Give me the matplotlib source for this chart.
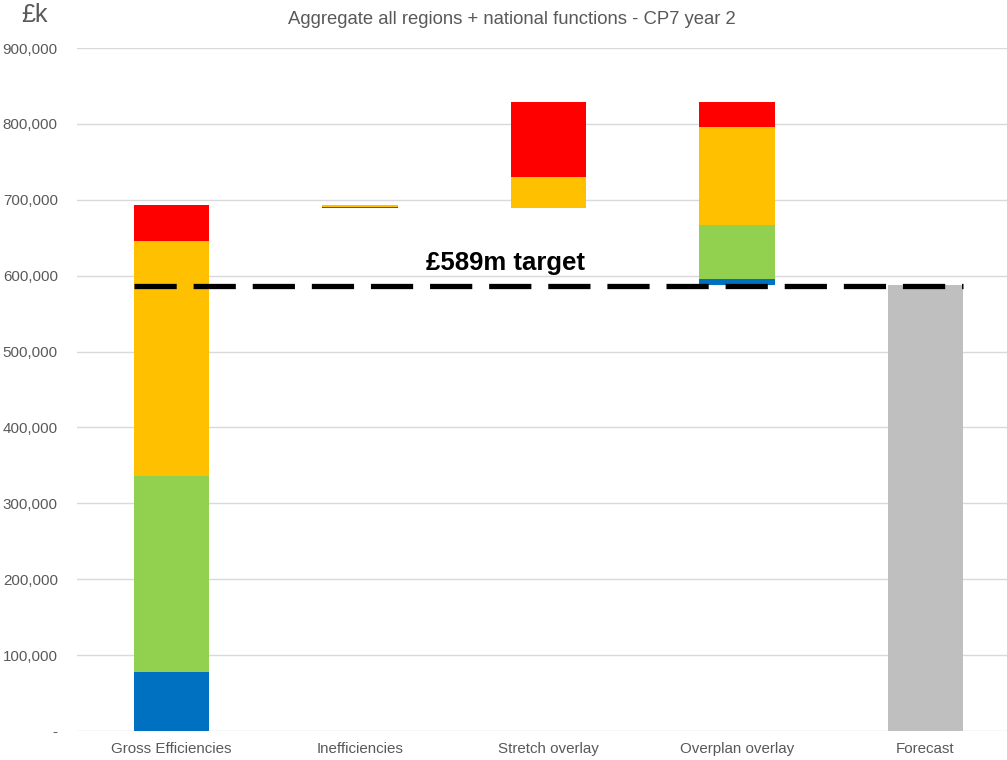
import numpy as np
import matplotlib.pyplot as plt

plt.rcParams['font.family'] = ['Liberation Sans', 'DejaVu Sans']

categories = ['Gross Efficiencies', 'Inefficiencies', 'Stretch overlay',
              'Overplan overlay', 'Forecast']
# waterfall: invisible base + stacked segments (£k)
base = [0, 689000, 689000, 588000, 0]
blue = [78000, 1000, 0, 7000, 0]
green = [258000, 0, 0, 72000, 0]
yellow = [310000, 3000, 40500, 129000, 0]
red = [47000, 0, 99500, 33000, 0]
grey = [0, 0, 0, 0, 588000]
target = 586000
target_label = '£589m target'

seg_colors = {'blue': '#0070C0', 'green': '#92D050', 'yellow': '#FFC000',
              'red': '#FF0000', 'grey': '#BFBFBF'}
txt = '#595959'

fig = plt.figure(figsize=(10.07, 7.6), dpi=100)
ax = fig.add_axes([77.25 / 1007, 29 / 760, 942.5 / 1007, 683 / 760])

x = np.arange(len(categories))
bottom = np.array(base, dtype=float)
for name, vals in [('blue', blue), ('green', green), ('yellow', yellow),
                   ('red', red), ('grey', grey)]:
    vals = np.array(vals, dtype=float)
    ax.bar(x, vals, 0.4, bottom=bottom, color=seg_colors[name], zorder=2)
    bottom += vals

ax.plot([-0.2, 4.2], [target, target], color='black', lw=3.8,
        dashes=(8, 3.2), dash_capstyle='butt', zorder=3)
ax.text(1.772, 607500, target_label, ha='center', va='baseline',
        fontsize=18.5, fontweight='bold', color='black', zorder=4)

ax.set_xlim(-0.5, 4.5)
ax.set_ylim(0, 900000)
ax.set_yticks(np.arange(0, 900001, 100000))
ax.set_yticklabels(['-'] + [f'{v:,}' for v in range(100000, 900001, 100000)])
ax.set_xticks(x)
ax.set_xticklabels(categories)
ax.tick_params(axis='both', length=0, labelsize=10.9, labelcolor=txt)
ax.tick_params(axis='y', pad=14)
ax.tick_params(axis='x', pad=8)
ax.grid(axis='y', color='#D9D9D9', lw=1, zorder=0)
ax.set_axisbelow(True)
for s in ax.spines.values():
    s.set_visible(False)

fig.text(512 / 1007, 1 - 20 / 760, 'Aggregate all regions + national functions - CP7 year 2',
         ha='center', va='center', fontsize=13.3, color=txt)
fig.text(34 / 1007, 1 - 15 / 760, '£k', ha='center', va='center',
         fontsize=18, color=txt)

fig.savefig('out.png', dpi=100)
